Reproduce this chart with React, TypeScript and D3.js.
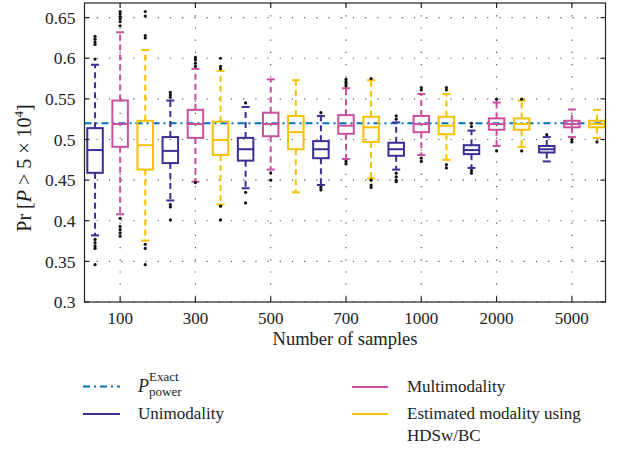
import React from "react";
import * as d3 from "d3";

const groups = ["100", "300", "500", "700", "1000", "2000", "5000"];
const yTicks = [0.3, 0.35, 0.4, 0.45, 0.5, 0.55, 0.6, 0.65];
const pExact = 0.52;

const seriesNames = ["Unimodality", "Multimodality", "Estimated modality using HDSw/BC"];
const seriesColors = ["#3a2f95", "#c9509f", "#f7c100"];

// Unimodality
const uniLow = [0.382, 0.425, 0.44, 0.444, 0.463, 0.465, 0.473];
const uniQ1 = [0.459, 0.471, 0.474, 0.477, 0.48, 0.482, 0.484];
const uniMed = [0.487, 0.486, 0.488, 0.488, 0.488, 0.487, 0.488];
const uniQ3 = [0.514, 0.503, 0.502, 0.498, 0.496, 0.493, 0.492];
const uniHigh = [0.592, 0.548, 0.54, 0.529, 0.521, 0.511, 0.503];
const uniOut = [
  [0.627, 0.6235, 0.62, 0.617, 0.599, 0.377, 0.373, 0.369, 0.366, 0.346],
  [0.558, 0.555, 0.552, 0.42, 0.417, 0.401],
  [0.545, 0.435, 0.422],
  [0.533, 0.441, 0.438],
  [0.529, 0.525, 0.4585, 0.454, 0.45, 0.448],
  [0.52, 0.516, 0.462, 0.4585],
  [0.506],
];

// Multimodality
const multiLow = [0.408, 0.448, 0.463, 0.476, 0.481, 0.492, 0.503];
const multiQ1 = [0.491, 0.502, 0.504, 0.507, 0.509, 0.512, 0.515];
const multiMed = [0.519, 0.519, 0.519, 0.517, 0.519, 0.519, 0.519];
const multiQ3 = [0.548, 0.5365, 0.533, 0.53, 0.529, 0.526, 0.523];
const multiHigh = [0.632, 0.587, 0.574, 0.563, 0.556, 0.5455, 0.537];
const multiOut = [
  [0.6575, 0.6547, 0.6514, 0.6485, 0.6452, 0.64, 0.403, 0.393, 0.389, 0.385, 0.381],
  [0.601, 0.598, 0.594, 0.59, 0.447],
  [0.459, 0.45],
  [0.574, 0.571, 0.5685, 0.566, 0.473, 0.47],
  [0.564, 0.561, 0.477, 0.473],
  [0.5496, 0.486],
  [0.5, 0.497],
];

// Estimated modality using HDSw/BC
const estLow = [0.3755, 0.42, 0.435, 0.452, 0.475, 0.491, 0.502];
const estQ1 = [0.463, 0.481, 0.488, 0.497, 0.5065, 0.512, 0.515];
const estMed = [0.493, 0.4995, 0.509, 0.515, 0.517, 0.519, 0.519];
const estQ3 = [0.523, 0.522, 0.529, 0.528, 0.528, 0.526, 0.523];
const estHigh = [0.61, 0.5845, 0.573, 0.573, 0.556, 0.548, 0.5365];
const estOut = [
  [0.6575, 0.652, 0.628, 0.625, 0.371, 0.366, 0.346],
  [0.6, 0.59, 0.587, 0.418, 0.401],
  [],
  [0.575, 0.45, 0.444, 0.441],
  [0.564, 0.561, 0.469, 0.465],
  [0.5496, 0.486],
  [0.497],
];

const seriesStats = [
  { low: uniLow, q1: uniQ1, med: uniMed, q3: uniQ3, high: uniHigh, out: uniOut },
  { low: multiLow, q1: multiQ1, med: multiMed, q3: multiQ3, high: multiHigh, out: multiOut },
  { low: estLow, q1: estQ1, med: estMed, q3: estQ3, high: estHigh, out: estOut },
];

const W = 622;
const H = 449;
const plot = { left: 84.5, right: 605.5, top: 3, bottom: 302 };
const FONT = "'Liberation Serif', 'Times New Roman', serif";

export default function App() {
  const x = d3.scaleLinear().domain([0.58, 21.34]).range([plot.left, plot.right]);
  const y = d3.scaleLinear().domain([0.3, 0.668]).range([plot.bottom, plot.top]);
  const pos = (g: number, s: number) => x(g * 3 + s + 1);
  const center = (g: number) => x(g * 3 + 2);
  const boxW = 15.5;
  const capW = 8;
  const tickLen = 5;

  const gridColor = "#555";
  const gridDash = "1.2,11";

  return (
    <svg
      width={W}
      height={H}
      style={{ position: "fixed", left: 0, top: 0, background: "#fff" }}
      fontFamily={FONT}
    >
      <rect x={0} y={0} width={W} height={H} fill="#fff" />
      {/* grid */}
      {yTicks.map((t) => (
        <line
          key={"hg" + t}
          x1={plot.left}
          x2={plot.right}
          y1={y(t)}
          y2={y(t)}
          stroke={gridColor}
          strokeWidth={1.2}
          strokeDasharray={gridDash}
        />
      ))}
      {groups.map((gname, g) => (
        <line
          key={"vg" + gname}
          x1={center(g)}
          x2={center(g)}
          y1={plot.top}
          y2={plot.bottom}
          stroke={gridColor}
          strokeWidth={1.2}
          strokeDasharray={gridDash}
        />
      ))}

      {/* P exact line */}
      <line
        x1={plot.left}
        x2={plot.right}
        y1={y(pExact)}
        y2={y(pExact)}
        stroke="#0072bd"
        strokeWidth={2}
        strokeDasharray="7,4,2,4"
      />

      {/* boxes */}
      {seriesStats.map((st, s) =>
        groups.map((gname, g) => {
          const cx = pos(g, s);
          const col = seriesColors[s];
          return (
            <g key={s + "-" + gname}>
              <line x1={cx} x2={cx} y1={y(st.q3[g])} y2={y(st.high[g])} stroke={col} strokeWidth={2} strokeDasharray="6,4" />
              <line x1={cx} x2={cx} y1={y(st.q1[g])} y2={y(st.low[g])} stroke={col} strokeWidth={2} strokeDasharray="6,4" />
              <line x1={cx - capW / 2} x2={cx + capW / 2} y1={y(st.high[g])} y2={y(st.high[g])} stroke={col} strokeWidth={2} />
              <line x1={cx - capW / 2} x2={cx + capW / 2} y1={y(st.low[g])} y2={y(st.low[g])} stroke={col} strokeWidth={2} />
              <rect
                x={cx - boxW / 2}
                y={y(st.q3[g])}
                width={boxW}
                height={y(st.q1[g]) - y(st.q3[g])}
                fill="none"
                stroke={col}
                strokeWidth={2}
              />
              <line x1={cx - boxW / 2} x2={cx + boxW / 2} y1={y(st.med[g])} y2={y(st.med[g])} stroke={col} strokeWidth={2} />
              {st.out[g].map((v, i) => (
                <circle key={i} cx={cx} cy={y(v)} r={1.6} fill="#111" />
              ))}
            </g>
          );
        })
      )}

      {/* frame */}
      <rect
        x={plot.left}
        y={plot.top}
        width={plot.right - plot.left}
        height={plot.bottom - plot.top}
        fill="none"
        stroke="#222"
        strokeWidth={1.2}
      />
      {/* y ticks */}
      {yTicks.map((t) => (
        <g key={"yt" + t}>
          <line x1={plot.left} x2={plot.left + tickLen} y1={y(t)} y2={y(t)} stroke="#222" strokeWidth={1.2} />
          <line x1={plot.right} x2={plot.right - tickLen} y1={y(t)} y2={y(t)} stroke="#222" strokeWidth={1.2} />
          <text x={plot.left - 9} y={y(t)} dy="0.35em" textAnchor="end" fontSize={17.5} fill="#222">
            {String(t)}
          </text>
        </g>
      ))}
      {/* x ticks */}
      {groups.map((gname, g) => (
        <g key={"xt" + gname}>
          <line x1={center(g)} x2={center(g)} y1={plot.bottom} y2={plot.bottom - tickLen} stroke="#222" strokeWidth={1.2} />
          <line x1={center(g)} x2={center(g)} y1={plot.top} y2={plot.top + tickLen} stroke="#222" strokeWidth={1.2} />
          <text x={center(g)} y={323.5} textAnchor="middle" fontSize={17} fill="#222">
            {gname}
          </text>
        </g>
      ))}

      {/* axis labels */}
      <text x={(plot.left + plot.right) / 2} y={344.5} textAnchor="middle" fontSize={18.5} fill="#222">
        Number of samples
      </text>
      <text transform="translate(31,168) rotate(-90)" textAnchor="middle" fontSize={20} fill="#222">
        Pr [<tspan fontStyle="italic">P</tspan> {"> 5 × 10"}
        <tspan dy={-8} fontSize={13}>4</tspan>
        <tspan dy={8}>]</tspan>
      </text>

      {/* legend */}
      <line x1={83} x2={120} y1={386.5} y2={386.5} stroke="#0072bd" strokeWidth={2} strokeDasharray="7,4,2,4" />
      <text x={138} y={391.5} fontSize={18} fontStyle="italic" fill="#222">P</text>
      <text x={149} y={380.5} fontSize={13} fill="#222">Exact</text>
      <text x={149} y={395.5} fontSize={13} fill="#222">power</text>

      <line x1={83} x2={120} y1={414} y2={414} stroke={seriesColors[0]} strokeWidth={2} />
      <text x={138} y={419} fontSize={17} fill="#222">{seriesNames[0]}</text>

      <line x1={352} x2={388} y1={387} y2={387} stroke={seriesColors[1]} strokeWidth={2} />
      <text x={407} y={392} fontSize={17} fill="#222">{seriesNames[1]}</text>

      <line x1={352} x2={388} y1={414} y2={414} stroke={seriesColors[2]} strokeWidth={2} />
      <text x={407} y={419} fontSize={17} fill="#222">
        <tspan x={407}>Estimated modality using</tspan>
        <tspan x={407} dy={22}>HDSw/BC</tspan>
      </text>
    </svg>
  );
}
